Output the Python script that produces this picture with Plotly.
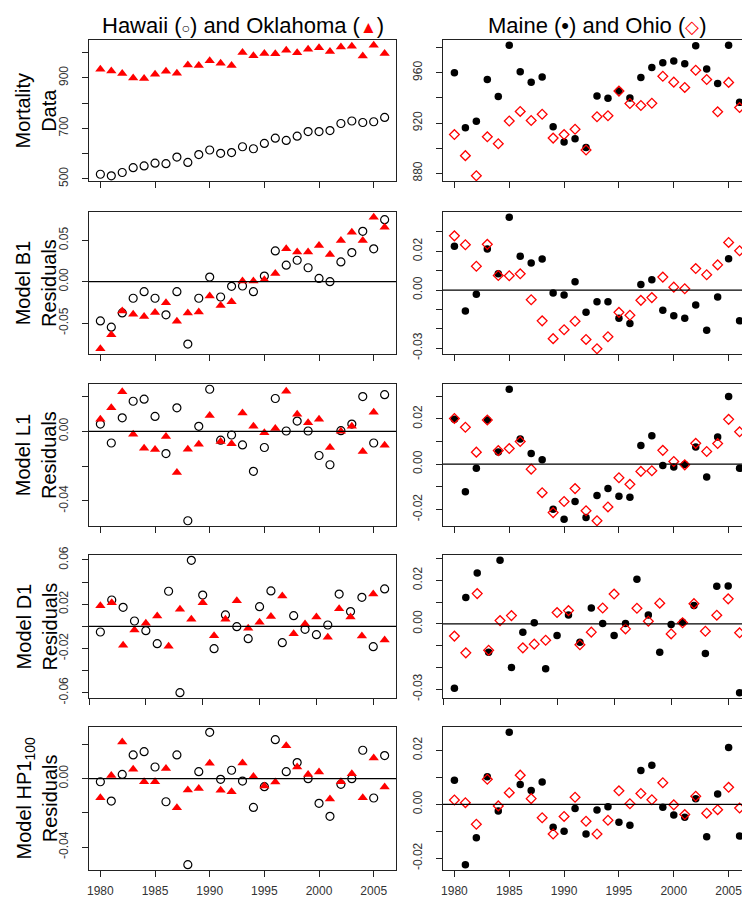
import plotly.graph_objects as go

W, H = 750, 897
FONT = "Liberation Sans, Arial, Helvetica, sans-serif"

# ---------------- data ----------------
years = list(range(1980, 2007))
years_d1 = list(range(1981, 2007))

hawaii_mort = [518, 512, 525, 544, 551, 562, 560, 586, 565, 596, 614, 601, 604, 627, 619,
               640, 661, 652, 669, 687, 687, 691, 719, 729, 723, 726, 743]
oklahoma_mort = [934, 927, 917, 899, 897, 914, 926, 918, 951, 949, 968, 958, 949, 1000, 987,
                 996, 995, 1009, 999, 1013, 1019, 1004, 1022, 1025, 986, 1029, 996]
maine_mort = [959.9, 916.3, 921.3, 954.6, 941.0, 981.9, 960.7, 952.5, 956.7, 917.1, 904.8,
              907.4, 900.6, 941.5, 939.7, 945.4, 939.9, 956.2, 964.1, 968.0, 969.3, 967.2,
              981.4, 963.0, 951.5, 981.9, 936.5]
ohio_mort = [910.8, 894.0, 878.0, 909.0, 903.5, 921.6, 929.2, 922.0, 927.0, 908.0, 910.8,
             915.0, 898.5, 925.0, 925.8, 945.4, 935.5, 933.9, 935.7, 957.2, 952.5, 948.3,
             962.0, 954.6, 928.9, 952.3, 932.3]

hawaii_b1 = [-0.0474, -0.055, -0.0378, -0.020, -0.012, -0.020, -0.040, -0.012, -0.0755, -0.020,
             0.0056, -0.0185, -0.0056, -0.0052, -0.012, 0.0068, 0.0373, 0.020, 0.026, 0.0169,
             0.004, 0.0, 0.024, 0.0353, 0.061, 0.0398, 0.0751]
oklahoma_b1 = [-0.0811, -0.0643, -0.0353, -0.0394, -0.0422, -0.0373, -0.0253, -0.0478, -0.0378,
               -0.0365, -0.0173, -0.0289, -0.0241, 0.0008, 0.0008, 0.0024, 0.010, 0.040, 0.036,
               0.036, 0.0438, 0.033, 0.050, 0.060, 0.050, 0.078, 0.066]
maine_b1 = [0.0226, -0.0108, -0.0021, 0.0212, 0.0084, 0.0376, 0.0174, 0.014, 0.0161, -0.0015,
            -0.0026, 0.0043, -0.0115, -0.006, -0.006, -0.0145, -0.0173, 0.0029, 0.0053, -0.0104,
            -0.0132, -0.0145, -0.0077, -0.0207, -0.0036, 0.0162, -0.0159]
ohio_b1 = [0.028, 0.0234, 0.0123, 0.0236, 0.0075, 0.0074, 0.0084, -0.005, -0.0159, -0.0251,
           -0.0205, -0.0161, -0.0255, -0.0303, -0.0241, -0.0115, -0.013, -0.0053, -0.0039, 0.0067,
           0.0015, 0.0007, 0.0111, 0.0079, 0.013, 0.0246, 0.0203]

hawaii_l1 = [0.0042, -0.0067, 0.0078, 0.0173, 0.0185, 0.0086, -0.0128, 0.0135, -0.0514, 0.0029,
             0.0242, -0.0051, -0.0021, -0.0078, -0.023, -0.0093, 0.0189, 0.0002, 0.0059, 0.0002,
             -0.0139, -0.0192, 0.0004, 0.0042, 0.02, -0.0067, 0.0211]
oklahoma_l1 = [0.0069, 0.0135, 0.0227, -0.0017, -0.0097, -0.0105, -0.0029, -0.0236, -0.0103,
               -0.0074, 0.0091, -0.0059, -0.0072, 0.0105, 0.003, -0.0008, 0.0017, 0.023, 0.0099,
               0.005, 0.0069, -0.0093, 0.0, 0.003, -0.0116, 0.011, -0.008]
maine_l1 = [0.0198, -0.0122, -0.0018, 0.0195, 0.0054, 0.0331, 0.0111, 0.0047, 0.002, -0.0199,
            -0.0243, -0.0165, -0.0236, -0.0139, -0.0107, -0.0142, -0.0146, 0.0083, 0.0126,
            -0.0006, -0.0012, -0.0001, 0.0076, -0.0057, 0.012, 0.0299, -0.0018]
ohio_l1 = [0.0202, 0.0163, 0.0053, 0.0195, 0.006, 0.0069, 0.01, -0.0022, -0.0126, -0.0214,
           -0.0165, -0.0108, -0.0206, -0.025, -0.0189, -0.006, -0.0089, -0.0032, -0.0029, 0.0061,
           0.0012, -0.0003, 0.0092, 0.0056, 0.0091, 0.0198, 0.0143]

hawaii_d1 = [-0.0051, 0.0238, 0.0172, 0.0048, -0.0039, -0.0157, 0.0317, -0.06, 0.0597, 0.0283,
             -0.0202, 0.0103, -0.0003, -0.0112, 0.0178, 0.032, -0.0148, 0.0096, -0.0027, -0.0075,
             0.0012, 0.0292, 0.0133, 0.0262, -0.0184, 0.0338]
oklahoma_d1 = [0.0187, 0.0214, -0.0172, -0.0033, 0.0027, 0.0093, -0.0181, 0.0154, 0.0063, 0.0214,
               -0.0084, 0.0063, 0.0232, -0.0018, 0.0036, 0.009, 0.0274, -0.0066, 0.0021, 0.0084,
               -0.0099, 0.016, 0.0084, -0.0087, 0.0292, -0.0124]
maine_d1 = [-0.0295, 0.0121, 0.0234, -0.013, 0.0292, -0.02, -0.0038, 0.0005, -0.0206, -0.0053,
            0.0041, -0.0084, 0.0073, 0.0002, -0.0053, 0.0002, 0.0205, 0.0041, -0.013, -0.0003,
            0.0008, 0.0085, -0.0136, 0.0173, 0.0174, -0.0316]
ohio_d1 = [-0.0056, -0.0133, 0.0139, -0.0121, 0.0015, 0.0038, -0.011, -0.0093, -0.0075, 0.0052,
           0.0061, -0.0096, -0.0038, 0.0073, 0.0137, -0.0023, 0.0072, 0.0012, 0.0095, -0.0046,
           0.0005, 0.0093, -0.0034, 0.004, 0.0115, -0.0041]

hawaii_hp = [-0.0018, -0.0131, 0.0025, 0.0139, 0.0158, 0.0068, -0.0135, 0.0139, -0.0503, 0.0041,
             0.0271, -0.0004, 0.0049, -0.0014, -0.0168, -0.0047, 0.0228, 0.0041, 0.0094, 0.0,
             -0.0144, -0.022, -0.0033, 0.0, 0.0166, -0.0113, 0.0135]
oklahoma_hp = [-0.0111, 0.0018, 0.0215, 0.0055, -0.0018, -0.0018, 0.006, -0.017, -0.0066, -0.0057,
               0.009, -0.0068, -0.0076, 0.0092, 0.0012, -0.0043, -0.002, 0.0193, 0.0068, 0.0025,
               0.0039, -0.0119, -0.0018, 0.0029, -0.0111, 0.0121, -0.0049]
maine_hp = [0.0089, -0.0224, -0.0124, 0.0102, -0.0025, 0.0267, 0.0073, 0.0051, 0.0083, -0.0085,
            -0.01, -0.0016, -0.011, -0.0021, -0.0009, -0.0067, -0.0078, 0.0125, 0.0145, -0.0011,
            -0.004, -0.0048, 0.0021, -0.012, 0.0038, 0.0211, -0.0118]
ohio_hp = [0.0016, 0.0006, -0.0074, 0.0093, -0.0006, 0.0043, 0.0108, 0.0021, -0.005, -0.011,
           -0.0045, 0.0026, -0.0063, -0.011, -0.0059, 0.005, 0.0002, 0.004, 0.0017, 0.008,
           -0.0002, -0.0038, 0.003, -0.0033, -0.002, 0.0063, -0.0014]

row_titles = ["Mortality<br>Data", "Model B1<br>Residuals", "Model L1<br>Residuals",
              "Model D1<br>Residuals", "Model HP1<sub>100</sub><br>Residuals"]
col_titles = ["Hawaii (<span style='font-size:14px'>○</span>) and Oklahoma "
              "(<span style='color:red;font-size:17px'>▲</span>)",
              "Maine (•) and Ohio (<span style='color:red;font-size:18px'>◇</span>)"]
year_ticks = [1980, 1985, 1990, 1995, 2000, 2005]

# y tick positions and which of them carry labels (R drops overlapping labels)
yticks = {
    (0, 0): ([500, 600, 700, 800, 900, 1000], [500, 700, 900]),
    (0, 1): ([880, 900, 920, 940, 960, 980], [880, 920, 960]),
    (1, 0): ([-0.05, 0.0, 0.05], [-0.05, 0.0, 0.05]),
    (1, 1): ([-0.03, -0.02, -0.01, 0.0, 0.01, 0.02, 0.03], [-0.03, 0.0, 0.02]),
    (2, 0): ([-0.04, -0.02, 0.0, 0.02], [-0.04, 0.0]),
    (2, 1): ([-0.02, -0.01, 0.0, 0.01, 0.02, 0.03], [-0.02, 0.0, 0.02]),
    (3, 0): ([-0.06, -0.04, -0.02, 0.0, 0.02, 0.04, 0.06], [-0.06, -0.02, 0.02, 0.06]),
    (3, 1): ([-0.03, -0.02, -0.01, 0.0, 0.01, 0.02, 0.03], [-0.03, 0.0, 0.02]),
    (4, 0): ([-0.04, -0.02, 0.0, 0.02], [-0.04, 0.0]),
    (4, 1): ([-0.02, -0.01, 0.0, 0.01, 0.02], [-0.02, 0.0, 0.02]),
}

rows = [
    (years, (hawaii_mort, oklahoma_mort), (maine_mort, ohio_mort)),
    (years, (hawaii_b1, oklahoma_b1), (maine_b1, ohio_b1)),
    (years, (hawaii_l1, oklahoma_l1), (maine_l1, ohio_l1)),
    (years_d1, (hawaii_d1, oklahoma_d1), (maine_d1, ohio_d1)),
    (years, (hawaii_hp, oklahoma_hp), (maine_hp, ohio_hp)),
]

# ---------------- layout geometry (pixels) ----------------
col_px = [(81, 388), (435, 743)]
row_px = [(32, 173), (204, 346), (376, 518), (547, 690), (719, 862)]

styles = [
    [dict(symbol="circle-open", size=8, color="black", line=dict(width=1.2, color="black")),
     dict(symbol="triangle-up", size=9, color="#ff0000", line=dict(width=0))],
    [dict(symbol="circle", size=7.5, color="black", line=dict(width=0)),
     dict(symbol="diamond-open", size=7.5, color="#ff0000", line=dict(width=1.3, color="#ff0000"))],
]

AX = "#222222"
TICKFONT = dict(family=FONT, size=12, color="#333333")


def fmt(v, mort):
    if mort:
        return str(int(round(v)))
    s = f"{v:.2f}"
    return "0.00" if s == "-0.00" else s


def pad_range(vals):
    lo, hi = min(vals), max(vals)
    p = 0.04 * (hi - lo)
    return [lo - p, hi + p]


fig = go.Figure()
layout = dict(width=W, height=H, margin=dict(l=0, r=0, t=0, b=0),
              paper_bgcolor="white", plot_bgcolor="white", showlegend=False,
              font=dict(family=FONT, color="black"))
shapes, annotations = [], []

for r, (xs, left, right) in enumerate(rows):
    for c, pair in enumerate((left, right)):
        k = r * 2 + c + 1
        xa = "x" if k == 1 else f"x{k}"
        ya = "y" if k == 1 else f"y{k}"
        for s, ys in enumerate(pair):
            fig.add_trace(go.Scatter(x=xs, y=ys, mode="markers", xaxis=xa, yaxis=ya,
                                     marker=styles[c][s], hoverinfo="skip"))
        x0, x1 = col_px[c]
        y0, y1 = row_px[r]
        tv, lab = yticks[(r, c)]
        mort = (r == 0)
        layout["xaxis" if k == 1 else f"xaxis{k}"] = dict(
            domain=[x0 / W, x1 / W], anchor=ya, range=pad_range(xs),
            tickvals=year_ticks, ticktext=[str(y) for y in year_ticks],
            showticklabels=(r == 4), ticks="outside", ticklen=6, tickwidth=1, tickcolor=AX,
            showline=True, mirror=True, linecolor=AX, linewidth=1, showgrid=False,
            zeroline=False, tickfont=TICKFONT, automargin=False, ticklabelstandoff=4)
        layout["yaxis" if k == 1 else f"yaxis{k}"] = dict(
            domain=[1 - y1 / H, 1 - y0 / H], anchor=xa, range=pad_range(pair[0] + pair[1]),
            tickvals=tv, ticktext=[fmt(v, mort) if v in lab else "" for v in tv],
            tickangle=-90, ticks="outside", ticklen=6, tickwidth=1, tickcolor=AX,
            showline=True, mirror=True, linecolor=AX, linewidth=1, showgrid=False,
            zeroline=False, tickfont=TICKFONT, automargin=False, ticklabelstandoff=9)
        if r > 0:
            shapes.append(dict(type="line", xref=f"{xa} domain", yref=ya, x0=0, x1=1,
                               y0=0, y1=0, line=dict(color="black", width=1.2)))
    yc = (row_px[r][0] + row_px[r][1]) / 2
    annotations.append(dict(text=row_titles[r], x=28 / W, y=1 - yc / H, xref="paper",
                            yref="paper", textangle=-90, showarrow=False, xanchor="center",
                            yanchor="middle", font=dict(family=FONT, size=20, color="black")))

for c in range(2):
    xc = (col_px[c][0] + col_px[c][1]) / 2
    annotations.append(dict(text=col_titles[c], x=xc / W, y=1 - 17 / H, xref="paper",
                            yref="paper", showarrow=False, xanchor="center", yanchor="middle",
                            font=dict(family=FONT, size=22, color="black")))

layout["shapes"] = shapes
layout["annotations"] = annotations
fig.update_layout(**layout)
fig.write_html("out.html")
